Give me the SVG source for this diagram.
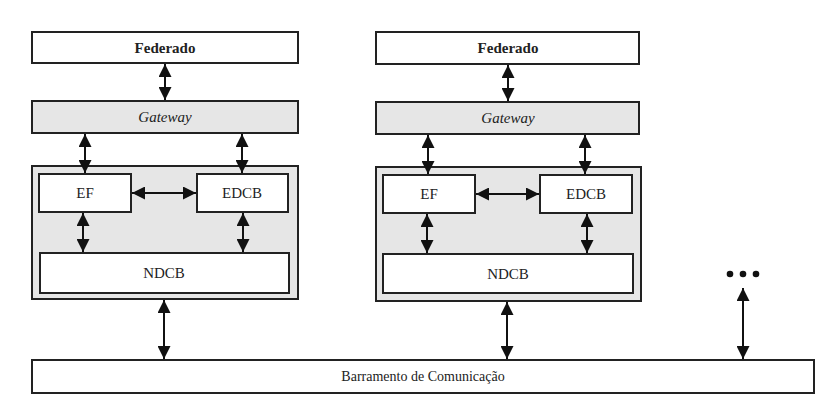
<svg xmlns="http://www.w3.org/2000/svg" width="831" height="404" viewBox="0 0 831 404">
<style>
.box{fill:#fff;stroke:#222;stroke-width:2}
.gray{fill:#e6e6e6;stroke:#222;stroke-width:2}
.c line{stroke:#111;stroke-width:2;marker-start:url(#a);marker-end:url(#a)}
</style>
<defs>
<marker id="a" viewBox="0 0 10 10" refX="10" refY="5" markerWidth="6.5" markerHeight="6.5" orient="auto-start-reverse" markerUnits="strokeWidth">
<path d="M0,0 L10,5 L0,10 z" fill="#111"/>
</marker>
</defs>
<rect width="831" height="404" fill="#fff"/>
<g font-family="Liberation Serif, DejaVu Serif, serif" font-size="15" fill="#222" text-anchor="middle">
<g id="fed1"><rect class="box" x="32" y="32" width="266" height="31"/><text font-weight="bold" x="165" y="53">Federado</text></g>
<g id="gw1"><rect class="gray" x="32" y="101" width="266" height="32"/><text font-style="italic" x="165" y="122">Gateway</text></g>
<g id="grp1"><rect class="gray" x="32" y="166" width="266" height="133"/></g>
<g id="ef1"><rect class="box" x="39" y="174" width="92" height="38"/><text x="85" y="198">EF</text></g>
<g id="edcb1"><rect class="box" x="197" y="174" width="91" height="38"/><text x="242" y="198">EDCB</text></g>
<g id="ndcb1"><rect class="box" x="40" y="253" width="249" height="40"/><text x="164" y="278">NDCB</text></g>
<g id="fed2"><rect class="box" x="376" y="32" width="263" height="32"/><text font-weight="bold" x="508" y="53">Federado</text></g>
<g id="gw2"><rect class="gray" x="376" y="102" width="263" height="32"/><text font-style="italic" x="508" y="123">Gateway</text></g>
<g id="grp2"><rect class="gray" x="376" y="167" width="265" height="134"/></g>
<g id="ef2"><rect class="box" x="383" y="175" width="92" height="38"/><text x="429" y="199">EF</text></g>
<g id="edcb2"><rect class="box" x="540" y="175" width="92" height="38"/><text x="586" y="199">EDCB</text></g>
<g id="ndcb2"><rect class="box" x="383" y="254" width="250" height="39"/><text x="508" y="279">NDCB</text></g>
<g id="bus"><rect class="box" x="32" y="360" width="782" height="33"/><text x="423" y="381" font-size="14">Barramento de Comunicação</text></g>
</g>
<g id="more"><circle cx="730" cy="274" r="3.3" fill="#111"/><circle cx="743" cy="274" r="3.3" fill="#111"/><circle cx="756" cy="274" r="3.3" fill="#111"/></g>
<g class="c" id="connectors">
<line x1="165" y1="64" x2="165" y2="100"/>
<line x1="85" y1="134" x2="85" y2="173"/>
<line x1="242" y1="134" x2="242" y2="173"/>
<line x1="132" y1="193" x2="196" y2="193"/>
<line x1="83" y1="213" x2="83" y2="252"/>
<line x1="243" y1="213" x2="243" y2="252"/>
<line x1="164" y1="300" x2="164" y2="359"/>
<line x1="508" y1="65" x2="508" y2="101"/>
<line x1="428" y1="135" x2="428" y2="174"/>
<line x1="585" y1="135" x2="585" y2="174"/>
<line x1="476" y1="194" x2="539" y2="194"/>
<line x1="427" y1="214" x2="427" y2="253"/>
<line x1="587" y1="214" x2="587" y2="253"/>
<line x1="507" y1="302" x2="507" y2="359"/>
<line x1="743" y1="288" x2="743" y2="359"/>
</g>
</svg>
